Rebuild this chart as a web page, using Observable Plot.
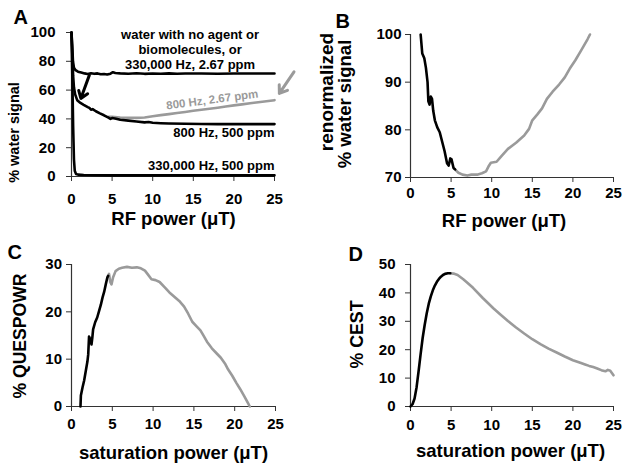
<!DOCTYPE html>
<html>
<head>
<meta charset="utf-8">
<script src="https://cdn.jsdelivr.net/npm/d3@7"></script>
<script src="https://cdn.jsdelivr.net/npm/@observablehq/plot@0.6"></script>
<style>
  html, body { margin: 0; padding: 0; background: #fff; }
  #chart { position: relative; width: 629px; height: 469px; background: #fff; overflow: hidden; }
  #chart > svg { position: absolute; }
</style>
</head>
<body>
<div id="chart"></div>
<script>
// ---------- DATA ----------
const xTicks = [0, 5, 10, 15, 20, 25];

// Panel A: % water signal vs RF power (uT)
const aWater = [[0,100],[0.08,92],[0.18,80],[0.3,75.5],[0.5,73.8],[0.8,72.8],[1.2,72.2],[1.6,71.6],[2.0,71.2],[2.4,71.7],[2.8,71.3],[3.2,71.6],[3.6,71.0],[4.0,71.2],[4.4,70.8],[4.8,71.4],[5.1,72.4],[5.4,71.9],[6,71.6],[7,71.4],[8,71.7],[9,71.3],[10,71.5],[11,71.4],[12,71.6],[13,71.4],[14,71.5],[16,71.5],[18,71.4],[20,71.5],[22,71.5],[25,71.5]];
const a800_500 = [[0,100],[0.1,85],[0.2,70],[0.3,62],[0.45,57],[0.7,53],[1.0,51.5],[1.5,49.8],[2.0,48.2],[2.2,47.6],[2.4,46.4],[2.6,46.8],[3.0,45.3],[3.5,43.8],[4.0,42.5],[4.5,41.0],[4.8,40.0],[5.0,40.6],[5.5,40.1],[6,39.4],[7,38.8],[8,38.2],[9,37.6],[9.5,37.8],[10,37.3],[11,37.0],[12,36.8],[14,36.6],[16,36.5],[18,36.4],[20,36.4],[25,36.4]];
const a800_267 = [[4.6,41.5],[5,41.4],[6,41.0],[7,40.8],[8,40.7],[9,41.0],[10,41.8],[11,42.6],[12,43.3],[13,44.1],[14,44.8],[15,45.6],[16,46.3],[17,47.1],[18,47.8],[19,48.6],[20,49.4],[21,50.1],[22,50.9],[23,51.6],[24,52.3],[25,53.0]];
const a330k_500 = [[0,100],[0.1,70],[0.2,35],[0.3,12],[0.4,4],[0.55,1.8],[0.8,1.3],[1.5,1.0],[3,0.9],[5,0.8],[10,0.8],[25,0.8]];
const aLabels = [
  {text: "water with no agent or\nbiomolecules, or\n330,000 Hz, 2.67 ppm", x: 14.6, y: 75.0},
  {text: "800 Hz, 500 ppm", x: 25, y: 27.6},
  {text: "330,000 Hz, 500 ppm", x: 25, y: 4.7}
];
const aGrayLabel = [{text: "800 Hz, 2.67 ppm", x: 17.4, y: 50.8}];
const aArrowsBlack = [{x1: 2.2, y1: 70.4, x2: 1.15, y2: 54.2}];
const aArrowsGray = [{x1: 27.4, y1: 72.7, x2: 25.6, y2: 57.7}];

// Panel B: renormalized % water signal
const bBlack = [[1.25,100],[1.45,96],[1.7,95],[1.9,93],[2.1,90],[2.2,86],[2.35,85.3],[2.5,87],[2.65,86.5],[2.8,84],[3.0,82],[3.3,80.5],[3.6,79.5],[3.9,77.5],[4.2,75.5],[4.5,73],[4.7,72.5],[4.9,74],[5.05,73.8],[5.3,72],[5.5,71.7]];
const bGray = [[5.4,71.8],[5.9,71],[6.4,70.6],[7,70.4],[7.5,70.6],[8.2,70.6],[8.8,70.9],[9.3,71.3],[9.6,72.3],[9.9,73.1],[10.6,73.3],[11.2,74.5],[12,76],[13,77.3],[14,78.8],[14.6,80.2],[15,82],[15.6,83.2],[16.2,84.5],[16.8,86.5],[17.5,88],[18.3,89.5],[19,91],[19.6,92.8],[20.3,94.6],[21,96.6],[21.8,99],[22.1,100]];

// Panel C: % QUESPOWR
const cBlack = [[1.1,0],[1.15,2.3],[1.35,4],[1.55,5.5],[1.75,7.5],[1.95,9.5],[2.05,11],[2.15,14.8],[2.3,14.2],[2.45,13.1],[2.55,14.5],[2.65,16.3],[2.9,17.8],[3.15,18.8],[3.4,20.3],[3.6,21.5],[3.8,23],[4.0,24.2],[4.2,25.8],[4.4,27.3],[4.5,27.6]];
const cGray = [[4.45,27.5],[4.6,28],[4.75,26.3],[4.9,25.8],[5.1,27.3],[5.4,28.6],[5.8,29.1],[6.2,29.3],[6.8,29.5],[7.4,29.3],[8.0,29.4],[8.5,29.2],[9.0,28.7],[9.4,27.8],[9.8,26.9],[10.3,26.7],[10.8,26.3],[11.4,25.2],[12.0,24.1],[12.6,23.2],[13.2,22.3],[13.8,21.1],[14.3,19.6],[14.8,17.9],[15.3,17.0],[15.8,16.1],[16.2,14.9],[16.6,13.7],[17.2,12.3],[17.8,11.2],[18.3,10.3],[18.8,9.1],[19.2,7.8],[19.7,6.5],[20.2,5.0],[20.7,3.6],[21.2,2.1],[21.6,0.8],[21.85,0]];

// Panel D: % CEST
const dBlack = [[0,0],[0.25,0.8],[0.5,2.8],[0.75,6.8],[1.0,12.5],[1.25,18.5],[1.5,24.2],[1.75,28.8],[2.0,32.8],[2.25,36.2],[2.5,38.8],[2.75,40.9],[3.0,42.6],[3.25,43.9],[3.5,44.9],[3.75,45.7],[4.0,46.3],[4.25,46.7],[4.6,46.9],[4.9,46.9]];
const dGray = [[4.9,46.9],[5.3,46.8],[5.8,46.3],[6.5,44.8],[7.0,43.6],[7.7,41.8],[8.9,38.2],[10.2,34.6],[11.0,32.6],[12.0,30.1],[13.0,27.8],[14.0,25.7],[15.0,23.7],[16.0,22.0],[17.0,20.4],[18.0,19.0],[19.0,17.6],[20.0,16.3],[21.0,15.3],[21.5,14.8],[22.0,14.3],[22.5,13.9],[23.0,13.4],[23.5,12.8],[24.0,12.4],[24.3,12.9],[24.6,12.6],[25.0,11.0]];

// ---------- DRAW ----------
const FONT = "'Liberation Sans', Arial, Helvetica, sans-serif";
const GRAY = "#9a9a9a";
const AXIS = "#333";

function lineMark(data, stroke) {
  return Plot.line(data, {x: d => d[0], y: d => d[1], stroke, strokeWidth: 2.6, strokeLinejoin: "round", strokeLinecap: "round"});
}

function panel(o) {
  const marks = [
    Plot.ruleY([o.yDomain[0]], {stroke: AXIS, strokeWidth: 1.2}),
    Plot.ruleX([o.xDomain[0]], {stroke: AXIS, strokeWidth: 1.2}),
    Plot.axisX({ticks: xTicks, tickSize: 5, tickPadding: o.xPad, label: null, stroke: AXIS, fill: "black", fontSize: 15, fontWeight: "bold", tickFormat: d => String(d)}),
    Plot.axisY({ticks: o.yTicks, tickSize: 5, tickPadding: o.yPad, label: null, stroke: AXIS, fill: "black", fontSize: 15, fontWeight: "bold", tickFormat: d => String(d)}),
    Plot.text([o.letter], {frameAnchor: "top-left", textAnchor: "start", lineAnchor: "bottom", dx: o.letterDx, dy: o.letterDy, fontSize: 20, fontWeight: "bold", fill: "black"}),
    Plot.text([o.xTitle], {frameAnchor: "bottom", lineAnchor: "bottom", dx: o.xTitleDx, dy: o.xTitleDy, fontSize: 18.5, fontWeight: "bold", fill: "black"}),
    ...o.yTitles.map(t => Plot.text([t.text], {frameAnchor: "left", rotate: -90, lineAnchor: "bottom", textAnchor: "middle", dx: t.dx, dy: t.dy, fontSize: t.size, fontWeight: "bold", fill: "black"})),
    ...o.marks
  ];
  const svg = Plot.plot({
    width: o.w, height: o.h,
    marginLeft: o.ml, marginRight: o.mr, marginTop: o.mt, marginBottom: o.mb,
    x: {domain: o.xDomain},
    y: {domain: o.yDomain},
    style: {fontFamily: FONT, fontWeight: "bold", color: "black", background: "transparent", overflow: "visible"},
    marks
  });
  svg.style.left = o.left + "px";
  svg.style.top = o.top + "px";
  return svg;
}

const chart = document.getElementById("chart");

chart.appendChild(panel({
  left: 0, top: 0, w: 314, h: 235, ml: 71, mr: 40, mt: 32, mb: 59,
  xDomain: [0, 25], yDomain: [0, 100], yTicks: [0, 20, 40, 60, 80, 100],
  xPad: 12, yPad: 11,
  letter: "A", letterDx: -58, letterDy: -9,
  xTitle: "RF power (μT)", xTitleDx: 0.5, xTitleDy: 48,
  yTitles: [{text: "% water signal", dx: -52.5, dy: 28, size: 14.5}],
  marks: [
    lineMark(a800_267, GRAY),
    lineMark(aWater, "black"),
    lineMark(a800_500, "black"),
    lineMark(a330k_500, "black"),
    Plot.text(aLabels.slice(0, 1), {x: "x", y: "y", text: "text", textAnchor: "middle", lineAnchor: "bottom", lineHeight: 1.15, fontSize: 13, fontWeight: "bold", fill: "black"}),
    Plot.text(aLabels.slice(1), {x: "x", y: "y", text: "text", textAnchor: "end", lineAnchor: "bottom", fontSize: 13, fontWeight: "bold", fill: "black"}),
    Plot.text(aGrayLabel, {x: "x", y: "y", text: "text", textAnchor: "middle", lineAnchor: "bottom", rotate: -7.5, fontSize: 11.5, fontWeight: "bold", fill: GRAY}),
    Plot.arrow(aArrowsBlack, {x1: "x1", y1: "y1", x2: "x2", y2: "y2", stroke: "black", strokeWidth: 3, headLength: 11, headAngle: 70}),
    Plot.arrow(aArrowsGray, {x1: "x1", y1: "y1", x2: "x2", y2: "y2", stroke: GRAY, strokeWidth: 3, headLength: 11, headAngle: 70})
  ]
}));

chart.appendChild(panel({
  left: 314, top: 0, w: 315, h: 235, ml: 96, mr: 16, mt: 34, mb: 58,
  xDomain: [0, 25], yDomain: [70, 100], yTicks: [70, 80, 90, 100],
  xPad: 5, yPad: 4,
  letter: "B", letterDx: -75, letterDy: -7,
  xTitle: "RF power (μT)", xTitleDx: -8, xTitleDy: 49,
  yTitles: [
    {text: "renormalized", dx: -78, dy: -14, size: 19},
    {text: "% water signal", dx: -60, dy: -2, size: 18.5}
  ],
  marks: [lineMark(bGray, GRAY), lineMark(bBlack, "black")]
}));

chart.appendChild(panel({
  left: 0, top: 235, w: 314, h: 234, ml: 71, mr: 39, mt: 29, mb: 63,
  xDomain: [0, 25], yDomain: [0, 30], yTicks: [0, 10, 20, 30],
  xPad: 7, yPad: 4.5,
  letter: "C", letterDx: -64, letterDy: -6,
  xTitle: "saturation power (μT)", xTitleDx: 0, xTitleDy: 52,
  yTitles: [{text: "% QUESPOWR", dx: -45.5, dy: 0.5, size: 17.6}],
  marks: [lineMark(cGray, GRAY), lineMark(cBlack, "black")]
}));

chart.appendChild(panel({
  left: 314, top: 235, w: 315, h: 234, ml: 96, mr: 16, mt: 29, mb: 63,
  xDomain: [0, 25], yDomain: [0, 50], yTicks: [0, 10, 20, 30, 40, 50],
  xPad: 7.5, yPad: 10,
  letter: "D", letterDx: -62, letterDy: -4,
  xTitle: "saturation power (μT)", xTitleDx: -1.5, xTitleDy: 50,
  yTitles: [{text: "% CEST", dx: -48, dy: -1, size: 17.8}],
  marks: [lineMark(dGray, GRAY), lineMark(dBlack, "black")]
}));
</script>
</body>
</html>
